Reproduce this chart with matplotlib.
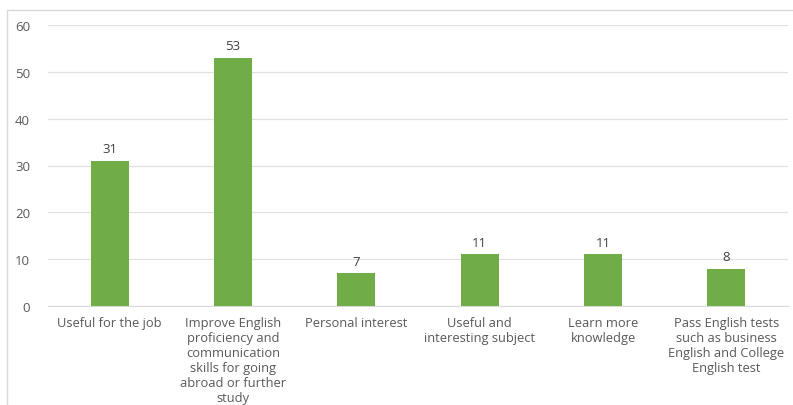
import matplotlib.pyplot as plt
import numpy as np
from matplotlib.patches import Rectangle

categories = [
    "Useful for the job",
    "Improve English\nproficiency and\ncommunication\nskills for going\nabroad or further\nstudy",
    "Personal interest",
    "Useful and\ninteresting subject",
    "Learn more\nknowledge",
    "Pass English tests\nsuch as business\nEnglish and College\nEnglish test",
]
values = [31, 53, 7, 11, 11, 8]
yticks = [0, 10, 20, 30, 40, 50, 60]

plt.rcParams["font.family"] = ["Open Sans", "DejaVu Sans"]
text_color = "#595959"

fig = plt.figure(figsize=(7.93, 4.06), dpi=100)
fig.patches.append(Rectangle((7 / 793, -0.05), 1.1, 1 - 11 / 406 + 0.05,
                             transform=fig.transFigure, fill=False,
                             edgecolor="#d9d9d9", linewidth=1))
ax = fig.add_axes([48 / 793, 1 - 307 / 406, 740 / 793, 281 / 406])

x = np.arange(len(values))
bars = ax.bar(x, values, width=0.31, color="#70AD47", zorder=3)
for xi, v in zip(x, values):
    ax.text(xi, v + 1.2, str(v), ha="center", va="bottom",
            fontsize=9.5, color="#404040")

ax.set_xlim(-0.5, len(values) - 0.5)
ax.set_ylim(0, 60)
ax.set_yticks(yticks)
ax.set_xticks(x)
ax.set_xticklabels(categories, fontsize=9.3, color=text_color, linespacing=1.2, va="top")
ax.tick_params(axis="y", labelsize=9.5, labelcolor=text_color, length=0, pad=13)
ax.tick_params(axis="x", length=0, pad=7)
ax.grid(axis="y", color="#e0e0e0", linewidth=0.9, zorder=0)
for s in ["top", "right", "left"]:
    ax.spines[s].set_visible(False)
ax.spines["bottom"].set_color("#d9d9d9")

fig.savefig("out.png", dpi=100)
